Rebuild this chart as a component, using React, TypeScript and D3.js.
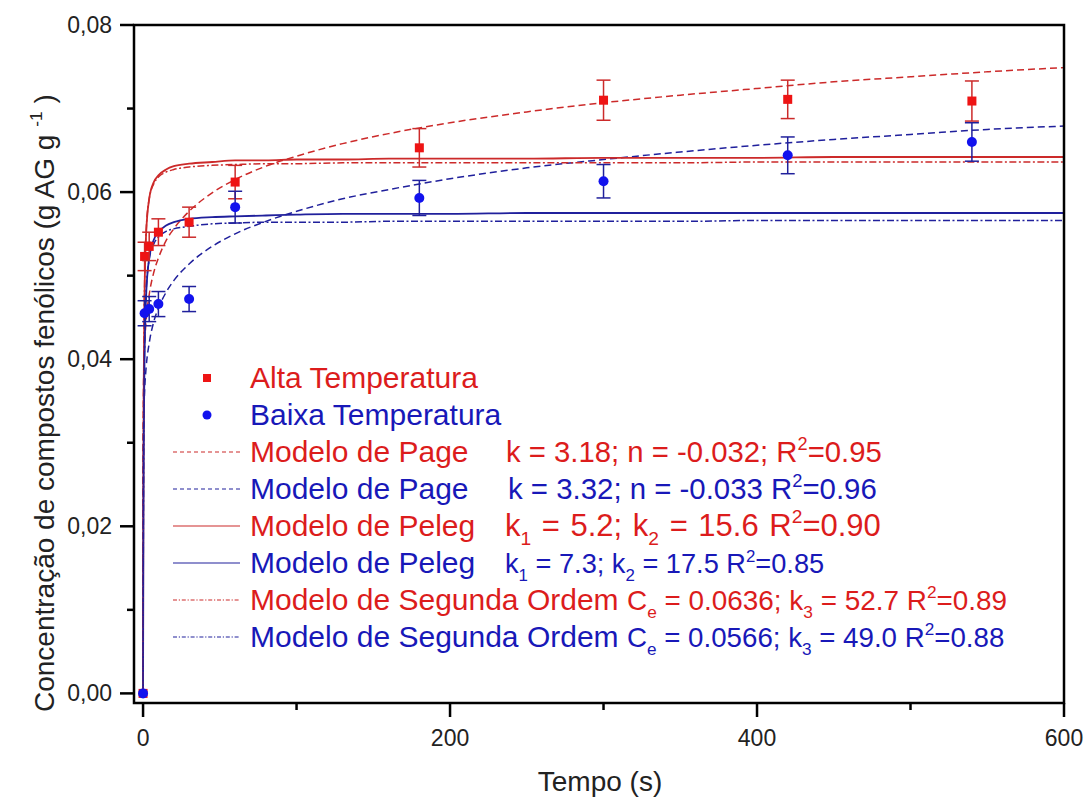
import React from "react";
import * as d3 from "d3";

// ---------- data ----------
const sampleTimes = [0, 1, 4, 10, 30, 60, 180, 300, 420, 540];
const altaValues = [0, 0.0523, 0.0535, 0.0552, 0.0564, 0.0612, 0.0653, 0.0710, 0.0711, 0.0709];
const altaErrors = [0, 0.0017, 0.0017, 0.0016, 0.0018, 0.0020, 0.0023, 0.0024, 0.0023, 0.0024];
const baixaValues = [0, 0.0455, 0.0460, 0.0466, 0.0472, 0.0582, 0.0593, 0.0613, 0.0644, 0.0660];
const baixaErrors = [0, 0.0015, 0.0015, 0.0015, 0.0015, 0.0019, 0.0021, 0.0020, 0.0022, 0.0023];

const modelTimes = [0, 0.01, 0.1, 0.25, 0.5, 1, 2, 4, 7, 10, 15, 20, 30, 45, 60, 80, 100, 130, 160, 200, 250, 300, 350, 400, 450, 500, 550, 600];
const pageAlta = [0, 0.0251, 0.0326, 0.0360, 0.0387, 0.0416, 0.0446, 0.0477, 0.0504, 0.0521, 0.0542, 0.0556, 0.0577, 0.0599, 0.0615, 0.0631, 0.0643, 0.0658, 0.0670, 0.0683, 0.0696, 0.0707, 0.0716, 0.0724, 0.0732, 0.0738, 0.0744, 0.0749];
const pageBaixa = [0, 0.0210, 0.0278, 0.0310, 0.0335, 0.0362, 0.0390, 0.0419, 0.0445, 0.0461, 0.0480, 0.0494, 0.0514, 0.0535, 0.0550, 0.0565, 0.0577, 0.0592, 0.0603, 0.0616, 0.0629, 0.0639, 0.0648, 0.0656, 0.0663, 0.0669, 0.0675, 0.0679];
const pelegAlta = [0, 0.0019, 0.0148, 0.0275, 0.0385, 0.0481, 0.0550, 0.0592, 0.0612, 0.0620, 0.0627, 0.0631, 0.0634, 0.0636, 0.0638, 0.0638, 0.0639, 0.0639, 0.0640, 0.0640, 0.0640, 0.0641, 0.0641, 0.0641, 0.0642, 0.0642, 0.0642, 0.0642];
const pelegBaixa = [0, 0.0013, 0.0111, 0.0216, 0.0314, 0.0406, 0.0476, 0.0521, 0.0543, 0.0552, 0.0560, 0.0564, 0.0568, 0.0570, 0.0571, 0.0572, 0.0573, 0.0574, 0.0574, 0.0574, 0.0575, 0.0575, 0.0575, 0.0575, 0.0575, 0.0575, 0.0575, 0.0575];
const segundaAlta = [0, 0.0021, 0.0160, 0.0290, 0.0398, 0.0490, 0.0553, 0.0592, 0.0610, 0.0618, 0.0624, 0.0627, 0.0630, 0.0632, 0.0633, 0.0634, 0.0634, 0.0635, 0.0635, 0.0635, 0.0635, 0.0635, 0.0635, 0.0636, 0.0636, 0.0636, 0.0636, 0.0636];
const segundaBaixa = [0, 0.0015, 0.0123, 0.0232, 0.0329, 0.0416, 0.0480, 0.0519, 0.0538, 0.0546, 0.0553, 0.0556, 0.0559, 0.0562, 0.0563, 0.0564, 0.0564, 0.0564, 0.0565, 0.0565, 0.0565, 0.0565, 0.0565, 0.0566, 0.0566, 0.0566, 0.0566, 0.0566];

const xMajorTicks = [0, 200, 400, 600];
const xMinorTicks = [100, 300, 500];
const yMajorTicks = [0, 0.02, 0.04, 0.06, 0.08];
const yMinorTicks = [0.01, 0.03, 0.05, 0.07];
const yTickLabels = ["0,00", "0,02", "0,04", "0,06", "0,08"];
const xTickLabels = ["0", "200", "400", "600"];

const pointLegend = ["Alta Temperatura", "Baixa Temperatura"];
const modelLegend = ["Modelo de Page", "Modelo de Page", "Modelo de Peleg", "Modelo de Peleg", "Modelo de Segunda Ordem", "Modelo de Segunda Ordem"];
const modelParams = [
  "k = 3.18; n = -0.032; R^{2}=0.95",
  "k = 3.32; n = -0.033 R^{2}=0.96",
  "k_{1} = 5.2; k_{2} = 15.6 R^{2}=0.90",
  "k_{1} = 7.3; k_{2} = 17.5 R^{2}=0.85",
  "C_{e} = 0.0636; k_{3} = 52.7 R^{2}=0.89",
  "C_{e} = 0.0566; k_{3} = 49.0 R^{2}=0.88",
];

// ---------- styles ----------
const FONT = "'Liberation Sans', Arial, sans-serif";
const RED_MARK = "#ee1414";
const BLUE_MARK = "#1212ee";
const RED_TEXT = "#dc1c1c";
const BLUE_TEXT = "#1818b8";
const RED_LINE = "#cc2a2a";
const BLUE_LINE = "#20209c";
const DASH_PLOT = "7,4";
const DASHDOT_PLOT = "7,2.5,2,2.5";
const DASH_LEG = "4,3";
const DASHDOT_LEG = "4,1.8,1.2,1.8";

function parseRich(s: string) {
  const parts: { t: string; kind: "n" | "sub" | "sup" }[] = [];
  const re = /(_\{[^}]*\}|\^\{[^}]*\})/g;
  let last = 0;
  let m: RegExpExecArray | null;
  while ((m = re.exec(s))) {
    if (m.index > last) parts.push({ t: s.slice(last, m.index), kind: "n" });
    const tok = m[0];
    parts.push({ t: tok.slice(2, -1), kind: tok[0] === "_" ? "sub" : "sup" });
    last = m.index + tok.length;
  }
  if (last < s.length) parts.push({ t: s.slice(last), kind: "n" });
  return parts;
}

function RichText({ text, x, y, size, fill, wordSpacing = 0 }: { text: string; x: number; y: number; size: number; fill: string; wordSpacing?: number }) {
  const parts = parseRich(text);
  let cur = 0;
  const small = size * 0.62;
  return (
    <text x={x} y={y} fontSize={size} fill={fill} fontFamily={FONT} style={{ whiteSpace: "pre", wordSpacing: wordSpacing + "px" }}>
      {parts.map((p, i) => {
        let target = 0;
        if (p.kind === "sub") target = size * 0.3;
        if (p.kind === "sup") target = -size * 0.42;
        const dy = target - cur;
        cur = target;
        return (
          <tspan key={i} dy={dy} fontSize={p.kind === "n" ? size : small}>
            {p.t}
          </tspan>
        );
      })}
    </text>
  );
}

export default function App() {
  const W = 1086;
  const H = 798;
  const left = 134, right = 1064, top = 25, bottom = 703;

  const x = d3.scaleLinear().domain([-5.9, 600]).range([left, right]);
  const y = d3.scaleLinear().domain([-0.00115, 0.08]).range([bottom, top]);

  const line = d3
    .line<[number, number]>()
    .x((d) => x(d[0]))
    .y((d) => y(d[1]))
    .curve(d3.curveMonotoneX);

  const mk = (vals: number[]) => line(modelTimes.map((t, i) => [t, vals[i]] as [number, number])) || "";

  const curves = [
    { d: mk(pageAlta), color: RED_LINE, dash: DASH_PLOT, w: 1.5 },
    { d: mk(pageBaixa), color: BLUE_LINE, dash: DASH_PLOT, w: 1.5 },
    { d: mk(pelegAlta), color: RED_LINE, dash: "", w: 1.8 },
    { d: mk(pelegBaixa), color: BLUE_LINE, dash: "", w: 1.8 },
    { d: mk(segundaAlta), color: RED_LINE, dash: DASHDOT_PLOT, w: 1.5 },
    { d: mk(segundaBaixa), color: BLUE_LINE, dash: DASHDOT_PLOT, w: 1.5 },
  ];

  const legendStyles = [
    { color: RED_LINE, dash: DASH_LEG, text: RED_TEXT },
    { color: BLUE_LINE, dash: DASH_LEG, text: BLUE_TEXT },
    { color: RED_LINE, dash: "", text: RED_TEXT },
    { color: BLUE_LINE, dash: "", text: BLUE_TEXT },
    { color: RED_LINE, dash: DASHDOT_LEG, text: RED_TEXT },
    { color: BLUE_LINE, dash: DASHDOT_LEG, text: BLUE_TEXT },
  ];
  const paramX = [506, 508, 505, 505, 627, 627];
  const paramSize = [29.3, 29.4, 31, 27.2, 27.9, 27.7];
  const paramWordSpacing = [0, 0, 2, 0, 0, 0];

  const legBase0 = 388;
  const legStep = 37;
  const legFont = 30;
  const cap = 7;

  return (
    <svg
      width={W}
      height={H}
      style={{ position: "absolute", left: 0, top: 0, display: "block", background: "#fff" }}
      fontFamily={FONT}
    >
      <rect x={0} y={0} width={W} height={H} fill="#fff" />

      {/* model curves */}
      {curves.map((c, i) => (
        <path key={i} d={c.d} fill="none" stroke={c.color} strokeWidth={c.w} strokeDasharray={c.dash || undefined} />
      ))}

      {/* Alta points */}
      {sampleTimes.map((t, i) => {
        const cx = x(t), cy = y(altaValues[i]);
        const e = altaErrors[i];
        return (
          <g key={"a" + i}>
            {e > 0 && (
              <g stroke={RED_LINE} strokeWidth={1.5}>
                <line x1={cx} x2={cx} y1={y(altaValues[i] + e)} y2={y(altaValues[i] - e)} />
                <line x1={cx - cap} x2={cx + cap} y1={y(altaValues[i] + e)} y2={y(altaValues[i] + e)} />
                <line x1={cx - cap} x2={cx + cap} y1={y(altaValues[i] - e)} y2={y(altaValues[i] - e)} />
              </g>
            )}
            <rect x={cx - 4.5} y={cy - 4.5} width={9} height={9} fill={RED_MARK} />
          </g>
        );
      })}
      {/* Baixa points */}
      {sampleTimes.map((t, i) => {
        const cx = x(t), cy = y(baixaValues[i]);
        const e = baixaErrors[i];
        return (
          <g key={"b" + i}>
            {e > 0 && (
              <g stroke={BLUE_LINE} strokeWidth={1.5}>
                <line x1={cx} x2={cx} y1={y(baixaValues[i] + e)} y2={y(baixaValues[i] - e)} />
                <line x1={cx - cap} x2={cx + cap} y1={y(baixaValues[i] + e)} y2={y(baixaValues[i] + e)} />
                <line x1={cx - cap} x2={cx + cap} y1={y(baixaValues[i] - e)} y2={y(baixaValues[i] - e)} />
              </g>
            )}
            <circle cx={cx} cy={cy} r={5} fill={BLUE_MARK} />
          </g>
        );
      })}

      {/* frame */}
      <rect x={left} y={top} width={right - left} height={bottom - top} fill="none" stroke="#000" strokeWidth={2.5} />

      {/* y ticks */}
      {yMajorTicks.map((v, i) => (
        <g key={"ym" + i}>
          <line x1={left - 14} x2={left} y1={y(v)} y2={y(v)} stroke="#000" strokeWidth={2.5} />
          <text x={left - 22} y={y(v) + 8} textAnchor="end" fontSize={23} fill="#222">
            {yTickLabels[i]}
          </text>
        </g>
      ))}
      {yMinorTicks.map((v, i) => (
        <line key={"yn" + i} x1={left - 7} x2={left} y1={y(v)} y2={y(v)} stroke="#000" strokeWidth={2.5} />
      ))}
      {/* x ticks */}
      {xMajorTicks.map((v, i) => (
        <g key={"xm" + i}>
          <line x1={x(v)} x2={x(v)} y1={bottom} y2={bottom + 14} stroke="#000" strokeWidth={2.5} />
          <text x={x(v)} y={bottom + 43} textAnchor="middle" fontSize={23} fill="#222">
            {xTickLabels[i]}
          </text>
        </g>
      ))}
      {xMinorTicks.map((v, i) => (
        <line key={"xn" + i} x1={x(v)} x2={x(v)} y1={bottom} y2={bottom + 7} stroke="#000" strokeWidth={2.5} />
      ))}

      {/* axis titles */}
      <text x={600} y={791} textAnchor="middle" fontSize={28} fill="#222">
        Tempo (s)
      </text>
      <g transform="translate(54,400) rotate(-90)">
        <RichText text={"Concentração de compostos fenólicos (g AG g ^{-1} )"} x={-312} y={0} size={28} fill="#222" />
      </g>

      {/* legend: points */}
      <rect x={207 - 4} y={legBase0 - 10 - 4} width={8} height={8} fill={RED_MARK} />
      <text x={250} y={legBase0} fontSize={legFont} fill={RED_TEXT}>
        {pointLegend[0]}
      </text>
      <circle cx={207} cy={legBase0 + legStep - 10} r={4.5} fill={BLUE_MARK} />
      <text x={250} y={legBase0 + legStep} fontSize={legFont} fill={BLUE_TEXT}>
        {pointLegend[1]}
      </text>

      {/* legend: models */}
      {modelLegend.map((name, i) => {
        const base = legBase0 + legStep * (i + 2);
        const st = legendStyles[i];
        return (
          <g key={"lg" + i}>
            <line
              x1={173}
              x2={240}
              y1={base - 10}
              y2={base - 10}
              stroke={st.color}
              strokeWidth={1.2}
              strokeDasharray={st.dash || undefined}
            />
            <text x={250} y={base} fontSize={legFont} fill={st.text}>
              {name}
            </text>
            <RichText
              text={modelParams[i]}
              x={paramX[i]}
              y={base}
              size={paramSize[i]}
              fill={st.text}
              wordSpacing={paramWordSpacing[i]}
            />
          </g>
        );
      })}
    </svg>
  );
}
